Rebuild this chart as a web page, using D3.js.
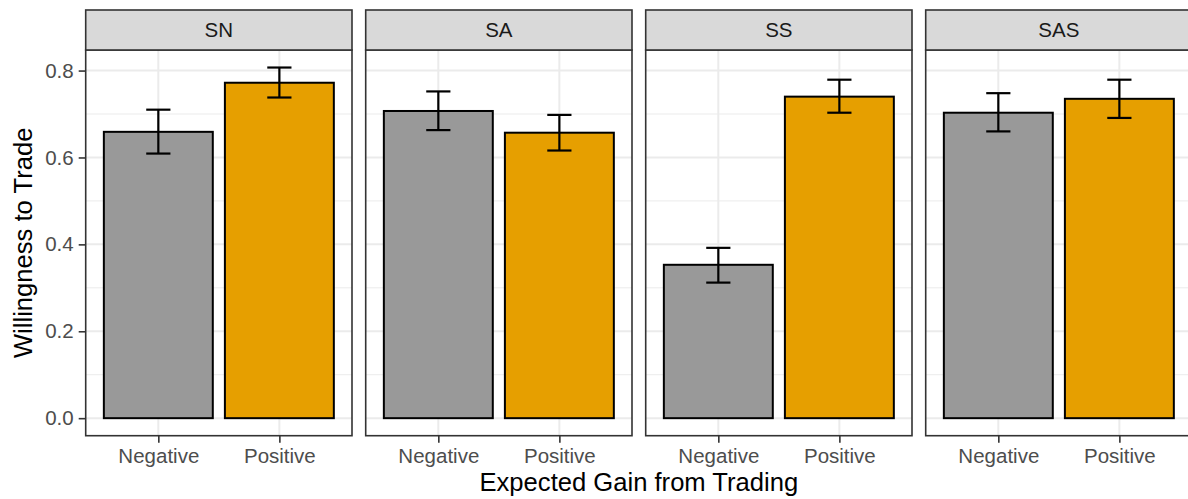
<!DOCTYPE html>
<html>
<head>
<meta charset="utf-8">
<script src="https://cdn.jsdelivr.net/npm/d3@7"></script>
<style>
  html, body { margin: 0; padding: 0; background: #fff; }
  svg { display: block; font-family: "Liberation Sans", Arial, Helvetica, sans-serif; }
</style>
</head>
<body>
<svg id="chart" width="1188" height="499"></svg>
<script>
// Facets (treatment conditions) and x categories
const facets = ["SN", "SA", "SS", "SAS"];
const gains = ["Negative", "Positive"];

// Mean willingness to trade per facet
const negMean = [0.659, 0.707, 0.353, 0.703];
const posMean = [0.772, 0.657, 0.740, 0.735];

// Error bar limits per facet
const negLower = [0.609, 0.663, 0.312, 0.660];
const negUpper = [0.710, 0.752, 0.392, 0.748];
const posLower = [0.738, 0.616, 0.703, 0.691];
const posUpper = [0.807, 0.698, 0.779, 0.779];

const yTicks = [0, 0.2, 0.4, 0.6, 0.8];
const yMinor = [0.1, 0.3, 0.5, 0.7];

const fillColors = { Negative: "#999999", Positive: "#E69F00" };

// Flattened rows for drawing
const rows = [];
facets.forEach((f, i) => {
  rows.push({ facet: f, gain: "Negative", mean: negMean[i], lo: negLower[i], hi: negUpper[i] });
  rows.push({ facet: f, gain: "Positive", mean: posMean[i], lo: posLower[i], hi: posUpper[i] });
});

const svg = d3.select("#chart");

// Layout
const panelLeft = 85.7, panelStep = 280, panelW = 266.3;
const stripTop = 10, panelTop = 50, panelBottom = 435.7;

// y scale with 5% expansion on the data range (0 .. highest error bar)
const yMax = d3.max(rows, d => d.hi);
const pad = 0.05 * yMax;
const y = d3.scaleLinear().domain([-pad, yMax + pad]).range([panelBottom, panelTop]);

const x = d3.scalePoint().domain(gains).range([0, panelW]).padding(0.6);
const step = x.step();
const barW = 0.9 * step;
const whisker = 0.2 * step;

const axisTextSize = 20.5;
const titleSize = 25.6;

facets.forEach((f, i) => {
  const g = svg.append("g").attr("transform", `translate(${panelLeft + i * panelStep},0)`);
  const h = panelBottom - panelTop;

  // panel background
  g.append("rect").attr("x", 0).attr("y", panelTop).attr("width", panelW).attr("height", h)
    .attr("fill", "#fff");

  // minor grid
  g.selectAll(".minor").data(yMinor).enter().append("line")
    .attr("x1", 0).attr("x2", panelW)
    .attr("y1", d => y(d)).attr("y2", d => y(d))
    .attr("stroke", "#EBEBEB").attr("stroke-width", 1);

  // major grid
  g.selectAll(".majorY").data(yTicks).enter().append("line")
    .attr("x1", 0).attr("x2", panelW)
    .attr("y1", d => y(d)).attr("y2", d => y(d))
    .attr("stroke", "#EBEBEB").attr("stroke-width", 2);
  g.selectAll(".majorX").data(gains).enter().append("line")
    .attr("x1", d => x(d)).attr("x2", d => x(d))
    .attr("y1", panelTop).attr("y2", panelBottom)
    .attr("stroke", "#EBEBEB").attr("stroke-width", 2);

  const data = rows.filter(r => r.facet === f);

  // bars
  g.selectAll(".bar").data(data).enter().append("rect")
    .attr("x", d => x(d.gain) - barW / 2)
    .attr("width", barW)
    .attr("y", d => y(d.mean))
    .attr("height", d => y(0) - y(d.mean))
    .attr("fill", d => fillColors[d.gain])
    .attr("stroke", "#000").attr("stroke-width", 2);

  // error bars
  const eb = g.selectAll(".eb").data(data).enter().append("g")
    .attr("stroke", "#000").attr("stroke-width", 2.2).attr("fill", "none");
  eb.append("line").attr("x1", d => x(d.gain)).attr("x2", d => x(d.gain))
    .attr("y1", d => y(d.lo)).attr("y2", d => y(d.hi));
  eb.append("line").attr("x1", d => x(d.gain) - whisker / 2).attr("x2", d => x(d.gain) + whisker / 2)
    .attr("y1", d => y(d.lo)).attr("y2", d => y(d.lo));
  eb.append("line").attr("x1", d => x(d.gain) - whisker / 2).attr("x2", d => x(d.gain) + whisker / 2)
    .attr("y1", d => y(d.hi)).attr("y2", d => y(d.hi));

  // panel border
  g.append("rect").attr("x", 0).attr("y", panelTop).attr("width", panelW).attr("height", h)
    .attr("fill", "none").attr("stroke", "#333333").attr("stroke-width", 1.6);

  // strip
  g.append("rect").attr("x", 0).attr("y", stripTop).attr("width", panelW).attr("height", panelTop - stripTop)
    .attr("fill", "#D9D9D9").attr("stroke", "#333333").attr("stroke-width", 1.6);
  g.append("text").attr("x", panelW / 2).attr("y", (stripTop + panelTop) / 2)
    .attr("dy", "0.36em").attr("text-anchor", "middle")
    .attr("font-size", axisTextSize).attr("fill", "#1A1A1A").text(f);

  // x axis
  const xAxis = g.append("g").attr("transform", `translate(0,${panelBottom})`)
    .call(d3.axisBottom(x).tickSizeOuter(0).tickSizeInner(7).tickPadding(6));
  xAxis.select(".domain").remove();
  xAxis.selectAll("line").attr("stroke", "#333333").attr("stroke-width", 1.6);
  xAxis.selectAll("text").attr("fill", "#4D4D4D").attr("font-size", axisTextSize)
    .attr("font-family", "Liberation Sans, Arial, sans-serif");

  // y axis on the first panel only
  if (i === 0) {
    const yAxis = g.append("g")
      .call(d3.axisLeft(y).tickValues(yTicks).tickFormat(d3.format(".1f"))
        .tickSizeOuter(0).tickSizeInner(7).tickPadding(5));
    yAxis.select(".domain").remove();
    yAxis.selectAll("line").attr("stroke", "#333333").attr("stroke-width", 1.6);
    yAxis.selectAll("text").attr("fill", "#4D4D4D").attr("font-size", axisTextSize)
      .attr("font-family", "Liberation Sans, Arial, sans-serif");
  }
});

// axis titles
svg.append("text")
  .attr("x", (panelLeft + panelLeft + 3 * panelStep + panelW) / 2)
  .attr("y", 491)
  .attr("text-anchor", "middle")
  .attr("font-size", titleSize).attr("fill", "#000")
  .text("Expected Gain from Trading");

svg.append("text")
  .attr("transform", `translate(32,${(panelTop + panelBottom) / 2}) rotate(-90)`)
  .attr("text-anchor", "middle")
  .attr("font-size", titleSize).attr("fill", "#000")
  .text("Willingness to Trade");
</script>
</body>
</html>
